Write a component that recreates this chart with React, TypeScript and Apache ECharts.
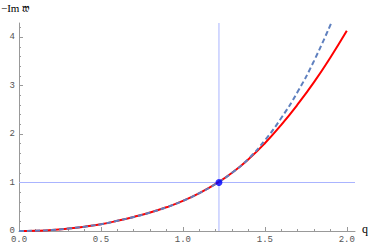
import React, { useEffect, useRef } from "react";
import * as echarts from "echarts";

const qRed = [0, 0.1, 0.2, 0.3, 0.4, 0.5, 0.6, 0.7, 0.8, 0.9, 1.0, 1.1, 1.2, 1.3, 1.4, 1.5, 1.6, 1.7, 1.8, 1.9, 2.0];
const yRed = [0, 0.005, 0.02, 0.05, 0.09, 0.14, 0.21, 0.29, 0.38, 0.49, 0.62, 0.78, 0.97, 1.2, 1.48, 1.81, 2.19, 2.61, 3.07, 3.58, 4.13];
const qBlue = [0, 0.1, 0.2, 0.3, 0.4, 0.5, 0.6, 0.7, 0.8, 0.9, 1.0, 1.1, 1.2, 1.3, 1.4, 1.5, 1.6, 1.7, 1.8, 1.91];
const yBlue = [0, 0.005, 0.02, 0.05, 0.09, 0.14, 0.21, 0.29, 0.38, 0.49, 0.62, 0.78, 0.97, 1.2, 1.49, 1.87, 2.33, 2.87, 3.51, 4.33];
const pointQ = 1.22;
const pointY = 1;
const xMajor = [0, 0.5, 1.0, 1.5, 2.0];
const xMinor = [0.1, 0.2, 0.3, 0.4, 0.6, 0.7, 0.8, 0.9, 1.1, 1.2, 1.3, 1.4, 1.6, 1.7, 1.8, 1.9, 2.0];
const yMajor = [0, 1, 2, 3, 4];
const yMinor = [0.2, 0.4, 0.6, 0.8, 1.2, 1.4, 1.6, 1.8, 2.2, 2.4, 2.6, 2.8, 3.2, 3.4, 3.6, 3.8, 4.2];
const xMax = 2.05;
const yMax = 4.29;

export default function App() {
  const ref = useRef<HTMLDivElement>(null);
  useEffect(() => {
    const chart = echarts.init(ref.current!, null, { renderer: "svg" });
    const axisColor = "#999999";
    const labelStyle = { fontFamily: "'Liberation Mono', 'DejaVu Sans Mono', monospace", fontSize: 9, color: "#555555" };
    const baseX = { type: "value", min: 0, max: xMax, splitLine: { show: false } };
    const baseY = { type: "value", min: 0, max: yMax, splitLine: { show: false } };
    const refStyle = { color: "#aab4ff", width: 1, type: "solid" };
    chart.setOption({
      animation: false,
      grid: { left: 19, top: 23, width: 336, height: 208, containLabel: false },
      xAxis: [
        {
          ...baseX,
          axisLine: { show: true, lineStyle: { color: axisColor, width: 1 } },
          axisTick: { show: true, inside: true, length: 4, customValues: xMajor, lineStyle: { color: axisColor } },
          axisLabel: { show: true, customValues: xMajor, margin: 4, formatter: (v: number) => v.toFixed(1), ...labelStyle },
        },
        {
          ...baseX,
          position: "bottom",
          axisLine: { show: false },
          axisTick: { show: true, inside: true, length: 2, customValues: xMinor, lineStyle: { color: axisColor } },
          axisLabel: { show: false },
        },
      ],
      yAxis: [
        {
          ...baseY,
          axisLine: { show: true, lineStyle: { color: axisColor, width: 1 } },
          axisTick: { show: true, inside: true, length: 4, customValues: yMajor, lineStyle: { color: axisColor } },
          axisLabel: { show: true, customValues: yMajor, margin: 4, formatter: (v: number) => String(v), ...labelStyle },
        },
        {
          ...baseY,
          position: "left",
          axisLine: { show: false },
          axisTick: { show: true, inside: true, length: 2, customValues: yMinor, lineStyle: { color: axisColor } },
          axisLabel: { show: false },
        },
      ],
      series: [
        {
          type: "line",
          z: 1,
          showSymbol: false,
          silent: true,
          lineStyle: refStyle,
          data: [[0, pointY], [xMax, pointY]],
        },
        {
          type: "line",
          z: 1,
          showSymbol: false,
          silent: true,
          lineStyle: refStyle,
          data: [[pointQ, 0], [pointQ, yMax]],
        },
        {
          type: "line",
          smooth: true,
          showSymbol: false,
          z: 2,
          lineStyle: { color: "#ff0000", width: 2 },
          itemStyle: { color: "#ff0000" },
          data: qRed.map((q, i) => [q, yRed[i]]),
        },
        {
          type: "line",
          smooth: true,
          showSymbol: false,
          z: 3,
          lineStyle: { color: "#5f80bf", width: 2, type: [5, 3] },
          itemStyle: { color: "#5f80bf" },
          data: qBlue.map((q, i) => [q, yBlue[i]]),
        },
        {
          type: "scatter",
          z: 4,
          symbolSize: 7,
          itemStyle: { color: "#0000ff" },
          data: [[pointQ, pointY]],
        },
      ],
      graphic: [
        {
          type: "text",
          left: 1,
          top: 2,
          style: { text: "\u2212Im \ud835\udd34", font: "11px 'Liberation Serif', 'DejaVu Serif', serif", fill: "#000" },
        },
        {
          type: "text",
          left: 362,
          top: 223,
          style: { text: "q", font: "12px 'Liberation Serif', 'DejaVu Serif', serif", fill: "#000" },
        },
      ],
    });
    return () => chart.dispose();
  }, []);
  return <div ref={ref} style={{ width: 374, height: 246, position: "absolute", left: 0, top: 0 }} />;
}
